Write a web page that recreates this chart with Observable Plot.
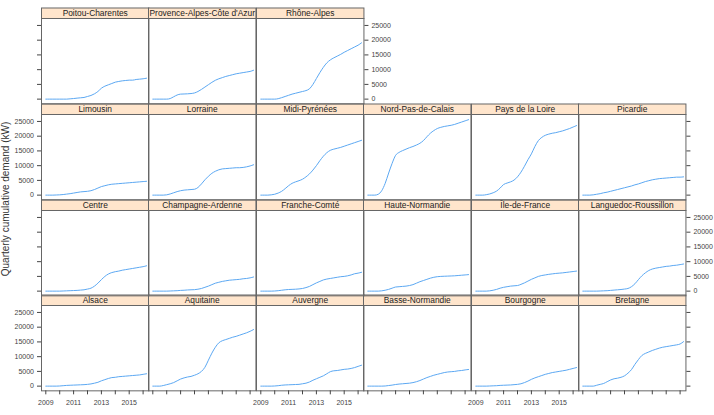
<!DOCTYPE html>
<html><head><meta charset="utf-8">
<script src="https://cdn.jsdelivr.net/npm/d3@7"></script>
<script src="https://cdn.jsdelivr.net/npm/@observablehq/plot@0.6"></script>
<style>
body{margin:0;background:#fff;}
#chart{position:relative;width:714px;height:415px;font-family:"Liberation Sans",Arial,sans-serif;overflow:hidden;background:#fff}
#chart svg{position:absolute;overflow:visible}
#ytitle{position:absolute;left:5px;top:199px;transform:translate(-50%,-50%) rotate(-90deg);white-space:nowrap;font-size:10px;color:#333}
</style></head><body>
<div id="chart"><div id="ytitle">Quarterly cumulative demand (kW)</div></div>
<script>
const years = [2009,2009.25,2009.5,2009.75,2010,2010.25,2010.5,2010.75,2011,2011.25,2011.5,2011.75,2012,2012.25,2012.5,2012.75,2013,2013.25,2013.5,2013.75,2014,2014.25,2014.5,2014.75,2015,2015.25,2015.5,2015.75,2016,2016.25];

const regions = ["Alsace","Aquitaine","Auvergne","Basse-Normandie","Bourgogne","Bretagne",
  "Centre","Champagne-Ardenne","Franche-Comté","Haute-Normandie","Île-de-France","Languedoc-Roussillon",
  "Limousin","Lorraine","Midi-Pyrénées","Nord-Pas-de-Calais","Pays de la Loire","Picardie",
  "Poitou-Charentes","Provence-Alpes-Côte d'Azur","Rhône-Alpes"];

const alsace    = [0,0,0,0, 50,150,250,300, 350,400,450,500, 600,750,1000,1300, 1800,2200,2600,2900, 3000,3200,3300,3400, 3500,3600,3700,3800, 4000,4200];
const aquitaine = [0,0,0,200, 500,800,1200,1800, 2400,2800,3100,3300, 3700,4200,5000,6400, 8800,11200,13200,14700, 15400,15800,16200,16600, 16900,17300,17700,18100, 18600,19200];
const auvergne  = [0,0,0,0, 50,150,300,400, 450,500,550,600, 800,1000,1400,2000, 2500,3000,3500,4200, 4900,5200,5300,5500, 5700,5800,6000,6300, 6700,7100];
const basseNormandie = [0,0,0,0, 0,50,200,350, 550,700,800,900, 1000,1200,1500,1900, 2400,2900,3300,3700, 4000,4300,4600,4800, 4900,5000,5200,5300, 5500,5650];
const bourgogne = [0,0,0,0, 50,100,150,250, 300,350,400,500, 600,800,1200,1700, 2300,2800,3200,3600, 4000,4300,4600,4800, 5000,5200,5400,5700, 6000,6300];
const bretagne  = [0,0,0,0, 300,600,900,1500, 2100,2500,2700,3000, 3500,4400,5600,7400, 9000,10400,11100,11600, 12100,12500,12900,13200, 13400,13600,13800,14000, 14300,15100];
const centre    = [0,0,0,0, 0,50,100,150, 200,250,350,450, 700,1000,1700,2700, 3900,5000,5800,6300, 6600,6800,7100,7300, 7500,7700,7900,8100, 8300,8600];
const champagne = [0,0,0,0, 0,50,100,150, 250,300,400,450, 500,650,900,1300, 1700,2200,2700,3000, 3300,3500,3700,3800, 3900,4000,4200,4300, 4500,4800];
const francheComte = [0,0,0,0, 50,150,300,450, 550,600,650,750, 900,1200,1600,2200, 2800,3300,3800,4100, 4300,4500,4700,4900, 5000,5200,5500,5900, 6100,6400];
const hauteNormandie = [0,0,0,0, 100,300,600,1000, 1400,1500,1600,1700, 1900,2200,2700,3200, 3600,4000,4400,4700, 4900,5000,5050,5100, 5150,5200,5300,5400, 5500,5600];
const ileDeFrance = [0,0,0,0, 100,300,600,1000, 1300,1500,1700,1800, 1900,2300,2800,3400, 4000,4500,5000,5300, 5500,5700,5850,6000, 6100,6200,6350,6500, 6650,6800];
const languedoc = [0,0,0,0, 0,50,100,150, 250,350,450,550, 700,900,1500,2500, 3900,5200,6200,7000, 7500,7800,8000,8200, 8400,8500,8700,8800, 9000,9200];
const limousin  = [0,0,0,50, 100,200,350,500, 700,900,1100,1200, 1300,1500,1900,2400, 2900,3200,3500,3700, 3800,3900,4000,4100, 4200,4300,4400,4500, 4600,4700];
const lorraine  = [0,0,0,0, 100,400,800,1200, 1500,1700,1800,1900, 2000,2600,3800,5200, 6400,7400,8100,8600, 8900,9000,9100,9200, 9300,9300,9400,9600, 9900,10300];
const midiPyrenees = [0,0,0,100, 300,700,1300,2200, 3200,4000,4500,4900, 5400,6200,7200,8500, 10000,11700,13200,14400, 15200,15600,15900,16200, 16600,17000,17400,17800, 18200,18600];
const nordPasDeCalais = [0,0,0,300, 1500,4000,7500,10800, 13500,14500,15100,15600, 16100,16500,17000,17600, 18500,19800,21000,21900, 22600,23000,23300,23500, 23700,24000,24400,24800, 25200,25600];
const paysDeLaLoire = [0,0,0,150, 400,800,1400,2400, 3600,4100,4500,5100, 6200,7800,9800,12000, 14000,16500,18500,19600, 20300,20700,21000,21200, 21500,21800,22200,22600, 23100,23600];
const picardie  = [0,0,0,100, 300,500,800,1000, 1300,1600,1900,2200, 2500,2800,3100,3500, 3800,4200,4600,4900, 5200,5400,5600,5700, 5800,5900,6000,6100, 6100,6200];
const poitou    = [0,0,0,0, 0,0,0,100, 200,340,450,560, 900,1240,1800,2600, 3700,4400,4860,5300, 5760,6000,6200,6330, 6440,6440,6670,6780, 6900,7100];
const paca      = [0,0,0,0, 0,200,800,1400, 1700,1750,1800,1900, 2100,2600,3300,4100, 4900,5700,6400,6900, 7300,7700,8000,8300, 8600,8800,9000,9200, 9400,9800];
const rhoneAlpes = [0,0,0,0, 0,150,500,900, 1300,1700,2000,2300, 2600,2900,3500,5000, 7000,9000,10800,12300, 13300,14000,14600,15200, 15900,16500,17100,17700, 18300,19100];

const series = [alsace,aquitaine,auvergne,basseNormandie,bourgogne,bretagne,
  centre,champagne,francheComte,hauteNormandie,ileDeFrance,languedoc,
  limousin,lorraine,midiPyrenees,nordPasDeCalais,paysDeLaLoire,picardie,
  poitou,paca,rhoneAlpes];

const yTicks = [0,5000,10000,15000,20000,25000];
const xTicks = [2009,2010,2011,2012,2013,2014,2015,2016];
const xLabels = [2009,2011,2013,2015];

const ML = 30, MR = 34, MT = 11, MB = 22;
const panelW = 107.45, rowH = 95.85, stripH = 10.5, areaH = rowH - stripH;
const left0 = 40.7, top0 = 7.3;
const nCols = 6, nRows = 4;
const font = '"Liberation Sans", Arial, sans-serif';
const chart = document.getElementById("chart");

regions.forEach((name, i) => {
  const col = i % nCols;
  const rowB = Math.floor(i / nCols);     // row counted from bottom (lattice order)
  const rowT = nRows - 1 - rowB;
  const isLast = (col === nCols - 1) || (i === regions.length - 1);
  const data = years.map((yr, k) => ({year: yr, value: series[i][k]}));
  const marks = [
    Plot.frame({fill: "#ffe5cc", stroke: "#666", insetTop: -stripH, insetBottom: areaH}),
    Plot.text([name], {text: d => d, frameAnchor: "top", dy: -stripH / 2, lineAnchor: "middle", fontSize: 8.4, fill: "#222"}),
    Plot.line(data, {x: "year", y: "value", stroke: "#5ba8f2", strokeWidth: 1, curve: "monotone-x"}),
    Plot.frame({stroke: "#666"})
  ];
  const axOpts = {ticks: yTicks, tickSize: 4, tickPadding: 3.5, fontSize: 7, color: "#444", label: null};
  if (col === 0) {
    const lab = rowB % 2 === 0;
    marks.push(Plot.axisY({...axOpts, anchor: "left", tickFormat: lab ? d => String(d) : () => ""}));
  }
  if (isLast) {
    const lab = rowB % 2 === 1;
    marks.push(Plot.axisY({...axOpts, anchor: "right", tickFormat: lab ? d => String(d) : () => ""}));
  }
  if (rowB === 0) {
    const lab = col % 2 === 0;
    marks.push(Plot.axisX({ticks: xTicks, tickSize: 4, tickPadding: 5.5, fontSize: 7, color: "#444", label: null, anchor: "bottom",
      tickFormat: d => (lab && xLabels.includes(d)) ? String(d) : ""}));
  }
  const svg = Plot.plot({
    width: ML + panelW + MR,
    height: MT + areaH + MB,
    marginLeft: ML, marginRight: MR, marginTop: MT, marginBottom: MB,
    x: {domain: [2008.69, 2016.42], axis: null},
    y: {domain: [-1594, 27357], axis: null},
    style: {background: "transparent", overflow: "visible", fontFamily: font},
    marks
  });
  svg.style.left = (left0 + col * panelW - ML) + "px";
  svg.style.top = (top0 + rowT * rowH + stripH - MT) + "px";
  chart.appendChild(svg);
});
</script>
</body></html>
